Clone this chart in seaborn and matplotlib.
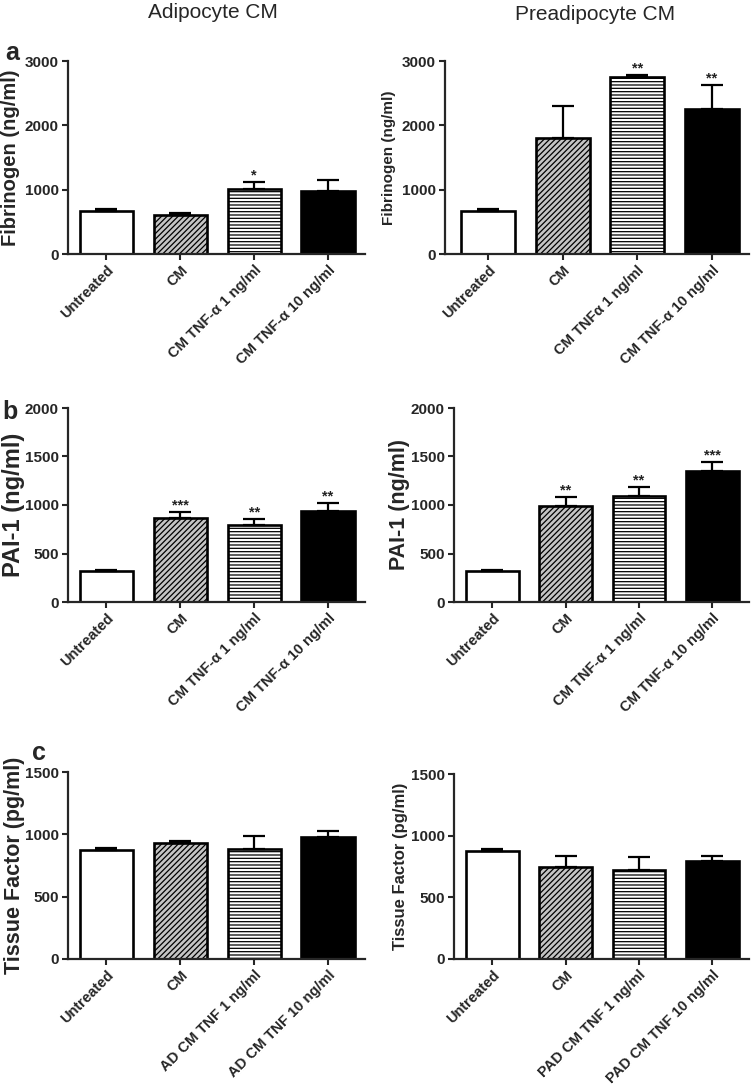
import numpy as np
import matplotlib
matplotlib.use("Agg")
import matplotlib.pyplot as plt
import seaborn as sns

sns.set_style("ticks")
plt.rcParams['font.family'] = ['Liberation Sans', 'DejaVu Sans']
plt.rcParams['hatch.linewidth'] = 0.9

# data
labels_tnf = ["Untreated", "CM", "CM TNF-\u03b1 1 ng/ml", "CM TNF-\u03b1 10 ng/ml"]
labels_tnf_pre_a = ["Untreated", "CM", "CM TNF\u03b1 1 ng/ml", "CM TNF-\u03b1 10 ng/ml"]
labels_tf_ad = ["Untreated", "CM", "AD CM TNF 1 ng/ml", "AD CM TNF 10 ng/ml"]
labels_tf_pad = ["Untreated", "CM", "PAD CM TNF 1 ng/ml", "PAD CM TNF 10 ng/ml"]

fib_ad_mean = [665, 605, 1015, 975]
fib_ad_err = [30, 35, 105, 175]
fib_ad_sig = ["", "", "*", ""]

fib_pre_mean = [665, 1810, 2750, 2255]
fib_pre_err = [28, 485, 40, 375]
fib_pre_sig = ["", "", "**", "**"]

pai_ad_mean = [315, 870, 795, 940]
pai_ad_err = [18, 60, 62, 82]
pai_ad_sig = ["", "***", "**", "**"]

pai_pre_mean = [315, 985, 1095, 1350]
pai_pre_err = [18, 98, 95, 97]
pai_pre_sig = ["", "**", "**", "***"]

tf_ad_mean = [878, 930, 885, 980]
tf_ad_err = [15, 14, 100, 45]
tf_ad_sig = ["", "", "", ""]

tf_pre_mean = [873, 745, 720, 792]
tf_pre_err = [16, 88, 103, 40]
tf_pre_sig = ["", "", "", ""]

FACES = ['white', '#c4c4c4', 'white', 'black']
HATCHES = ['', '//////', '-----', '']

W, H = 754, 1084
TICK_FS = 10.5


def px_axes(fig, x0, x1, ytop, ybot):
    return fig.add_axes([x0 / W, 1 - ybot / H, (x1 - x0) / W, (ybot - ytop) / H])


def bar_panel(ax, labels, means, errs, sig, ylabel, ymax, ystep, ylab_size, ylab_x, xmin=-0.52):
    sns.barplot(x=labels, y=means, ax=ax, width=0.72, color='white', saturation=1,
                edgecolor='black', linewidth=1.9, zorder=2)
    for p, fc, h in zip(ax.patches, FACES, HATCHES):
        p.set_facecolor(fc)
        p.set_hatch(h)
    x = np.arange(len(means))
    ax.errorbar(x, means, yerr=[np.zeros(len(means)), errs], fmt='none', ecolor='black',
                elinewidth=1.6, capsize=8, capthick=1.6, zorder=3)
    for xi, m, e, s in zip(x, means, errs, sig):
        if s:
            ax.annotate(s, (xi, m + e), xytext=(0, 1.5), textcoords='offset points',
                        ha='center', va='baseline', fontsize=10.5, fontweight='bold', color='#222222')
    ax.set_xlim(xmin, 3.5)
    ax.set_ylim(0, ymax)
    ax.set_yticks(np.arange(0, ymax + 1, ystep))
    ax.set_yticklabels([str(v) for v in np.arange(0, ymax + 1, ystep)], fontsize=11, fontweight='bold')
    ax.set_xticks(x)
    ax.set_xticklabels(labels, rotation=45, ha='right', va='top', rotation_mode='anchor',
                       fontsize=TICK_FS, fontweight='bold')
    ax.set_xlabel('')
    ax.set_ylabel(ylabel, fontsize=ylab_size, fontweight='bold', va='center')
    bb = ax.get_position()
    ax.yaxis.set_label_coords((ylab_x / W - bb.x0) / bb.width, 0.5)
    sns.despine(ax=ax)
    for sp in ['left', 'bottom']:
        ax.spines[sp].set_linewidth(1.6)
    ax.tick_params(axis='both', width=1.5, length=4.5, pad=2)


fig = plt.figure(figsize=(W / 100, H / 100), dpi=100)

ax = px_axes(fig, 68, 365, 61, 254)
bar_panel(ax, labels_tnf, fib_ad_mean, fib_ad_err, fib_ad_sig, "Fibrinogen (ng/ml)", 3000, 1000, 14.5, 11)
ax = px_axes(fig, 445, 749, 61, 254)
bar_panel(ax, labels_tnf_pre_a, fib_pre_mean, fib_pre_err, fib_pre_sig, "Fibrinogen (ng/ml)", 3000, 1000, 11, 389, xmin=-0.58)

ax = px_axes(fig, 68, 365, 408, 602)
bar_panel(ax, labels_tnf, pai_ad_mean, pai_ad_err, pai_ad_sig, "PAI-1 (ng/ml)", 2000, 500, 17, 13)
ax = px_axes(fig, 454, 749, 408, 602)
bar_panel(ax, labels_tnf, pai_pre_mean, pai_pre_err, pai_pre_sig, "PAI-1 (ng/ml)", 2000, 500, 15.5, 399)

ax = px_axes(fig, 68, 365, 772, 959)
bar_panel(ax, labels_tf_ad, tf_ad_mean, tf_ad_err, tf_ad_sig, "Tissue Factor (pg/ml)", 1500, 500, 15.5, 15)
ax = px_axes(fig, 454, 749, 774, 959)
bar_panel(ax, labels_tf_pad, tf_pre_mean, tf_pre_err, tf_pre_sig, "Tissue Factor (pg/ml)", 1500, 500, 12, 400)

fig.text(213 / W, 1 - 13 / H, "Adipocyte CM", ha='center', va='center', fontsize=15)
fig.text(595 / W, 1 - 14 / H, "Preadipocyte CM", ha='center', va='center', fontsize=15)
fig.text(12 / W, 1 - 53 / H, "a", ha='center', va='center', fontsize=18, fontweight='bold')
fig.text(10 / W, 1 - 412 / H, "b", ha='center', va='center', fontsize=18, fontweight='bold')
fig.text(39 / W, 1 - 753 / H, "c", ha='center', va='center', fontsize=18, fontweight='bold')

fig.savefig("out.png", dpi=100, facecolor='white')
